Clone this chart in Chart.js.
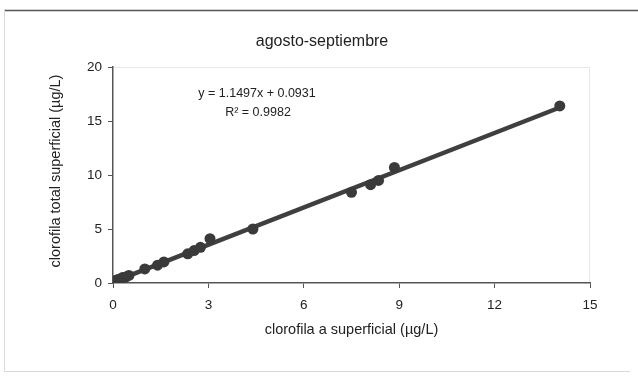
<!DOCTYPE html>
<html>
<head>
<meta charset="utf-8">
<script src="https://cdn.jsdelivr.net/npm/chart.js@4"></script>
<style>
html,body{margin:0;padding:0;background:#fff;}
#wrap{width:638px;height:379px;}
</style>
</head>
<body>
<div id="wrap"><canvas id="c" width="638" height="379"></canvas></div>
<script>
const titleText = "agosto-septiembre";
const xTitle = "clorofila a superficial (µg/L)";
const yTitle = "clorofila total superficial (µg/L)";
const eqText = "y = 1.1497x + 0.0931";
const r2Text = "R² = 0.9982";
const xTicks = [0, 3, 6, 9, 12, 15];
const yTicks = [0, 5, 10, 15, 20];
const obsX = [0.05, 0.1, 0.15, 0.2, 0.25, 0.3, 0.4, 0.5, 1.0, 1.4, 1.6, 2.35, 2.55, 2.75, 3.05, 4.4, 7.5, 8.1, 8.35, 8.85, 14.05];
const obsY = [0.1, 0.25, 0.3, 0.35, 0.4, 0.5, 0.55, 0.7, 1.3, 1.65, 1.95, 2.7, 3.0, 3.3, 4.1, 5.0, 8.4, 9.1, 9.5, 10.7, 16.4];
const trendX = [0, 14.05];
const trendY = [0.09, 16.25];

const FONT = "'Liberation Sans', Arial, sans-serif";
const TXT = "#222";

const decor = {
  id: 'decor',
  beforeDraw(chart) {
    const ctx = chart.ctx;
    ctx.save();
    ctx.fillStyle = '#fff';
    ctx.fillRect(0, 0, chart.width, chart.height);
    ctx.strokeStyle = '#555';
    ctx.lineWidth = 1.5;
    ctx.beginPath();
    ctx.moveTo(4, 10.5); ctx.lineTo(638, 10.5);
    ctx.stroke();
    ctx.strokeStyle = '#dadada';
    ctx.lineWidth = 1;
    ctx.beginPath();
    ctx.moveTo(4.5, 10); ctx.lineTo(4.5, 372);
    ctx.moveTo(4, 371.5); ctx.lineTo(630, 371.5);
    ctx.stroke();
    const a = chart.chartArea;
    ctx.strokeStyle = '#e8e8e8';
    ctx.beginPath();
    ctx.moveTo(a.left, a.top + 0.5); ctx.lineTo(a.right, a.top + 0.5);
    ctx.moveTo(a.right - 0.5, a.top); ctx.lineTo(a.right - 0.5, a.bottom);
    ctx.stroke();
    ctx.restore();
  },
  afterDraw(chart) {
    const ctx = chart.ctx;
    const a = chart.chartArea;
    ctx.save();
    ctx.fillStyle = TXT;
    ctx.textAlign = 'center';
    ctx.textBaseline = 'middle';
    ctx.font = "16px " + FONT;
    ctx.fillText(titleText, 322, 42);
    ctx.font = "12.5px " + FONT;
    ctx.fillText(eqText, 257, 94);
    ctx.fillText(r2Text, 258, 113);
    ctx.font = "14.5px " + FONT;
    ctx.fillText(xTitle, (a.left + a.right) / 2, 330);
    ctx.translate(56, (a.top + a.bottom) / 2 - 4);
    ctx.rotate(-Math.PI / 2);
    ctx.fillText(yTitle, 0, 0);
    ctx.restore();
  }
};

const chart = new Chart(document.getElementById('c'), {
  type: 'scatter',
  data: {
    datasets: [
      {
        type: 'line',
        data: trendX.map((x, i) => ({x, y: trendY[i]})),
        borderColor: '#3f3f3f',
        borderWidth: 4.5,
        pointRadius: 0,
        fill: false,
        order: 2
      },
      {
        data: obsX.map((x, i) => ({x, y: obsY[i]})),
        backgroundColor: '#3a3a3a',
        borderColor: '#3a3a3a',
        pointRadius: 5.5,
        pointBorderWidth: 0,
        order: 1
      }
    ]
  },
  plugins: [decor],
  options: {
    responsive: false,
    animation: false,
    layout: { padding: { left: 46, top: 67, right: 48, bottom: 42 } },
    plugins: { legend: { display: false }, tooltip: { enabled: false }, title: { display: false } },
    scales: {
      x: {
        type: 'linear',
        min: 0, max: 15,
        afterBuildTicks(s) { s.ticks = xTicks.map(v => ({value: v})); },
        afterFit(s) { s.height = 54; },
        grid: { drawOnChartArea: false, tickLength: 5, color: '#555' },
        border: { color: '#555', width: 1.5 },
        ticks: { color: TXT, font: { family: FONT, size: 13.5 }, padding: 9, maxRotation: 0 },
        title: { display: false }
      },
      y: {
        type: 'linear',
        min: 0, max: 20,
        afterBuildTicks(s) { s.ticks = yTicks.map(v => ({value: v})); },
        afterFit(s) { s.width = 67; },
        grid: { drawOnChartArea: false, tickLength: 5, color: '#555' },
        border: { color: '#555', width: 1.5 },
        ticks: { color: TXT, font: { family: FONT, size: 13.5 }, padding: 6 },
        title: { display: false }
      }
    }
  }
});
</script>
</body>
</html>
